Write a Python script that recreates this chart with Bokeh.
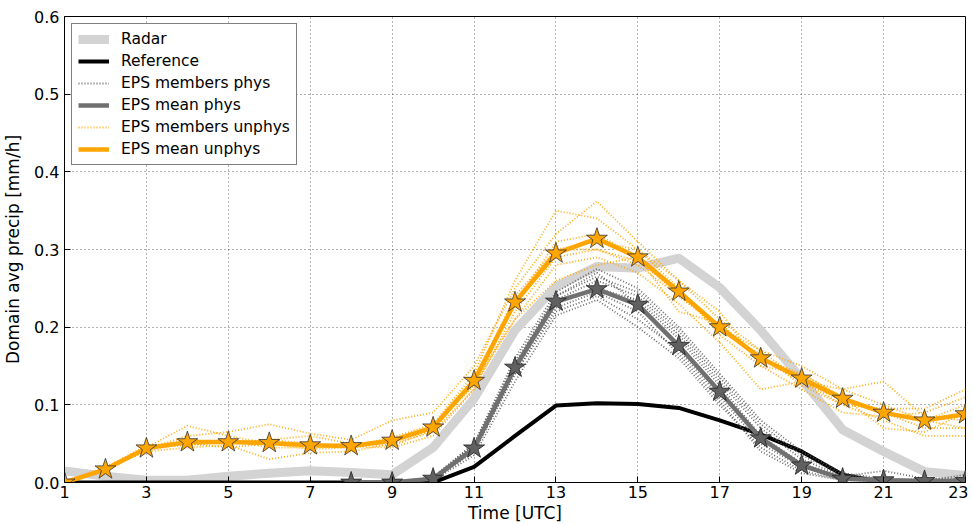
from bokeh.plotting import figure
from bokeh.embed import file_html
from bokeh.resources import INLINE
from bokeh.models import FixedTicker, Legend, LegendItem, NumeralTickFormatter

hours = list(range(1, 24))
hours_phys = list(range(8, 24))

radar = [0.015, 0.008, 0.003, 0.003, 0.008, 0.012, 0.015, 0.013, 0.010, 0.045, 0.108,
         0.196, 0.252, 0.278, 0.276, 0.289, 0.251, 0.196, 0.133, 0.068, 0.040, 0.014, 0.009]
reference = [0.0, 0.0, 0.0, 0.0, 0.0, 0.0, 0.0, 0.0, 0.0, 0.0, 0.02,
             0.06, 0.099, 0.102, 0.101, 0.096, 0.080, 0.062, 0.040, 0.010, 0.0, 0.0, 0.0]

mean_phys = [0.0, 0.0, 0.005, 0.044, 0.148, 0.233, 0.249, 0.229, 0.176, 0.117, 0.057,
             0.022, 0.005, 0.003, 0.002, 0.002]
members_phys = [
    [0, 0, 0.006, 0.05, 0.16, 0.245, 0.275, 0.25, 0.20, 0.14, 0.08, 0.04, 0.012, 0.005, 0.004, 0.004],
    [0, 0, 0.004, 0.04, 0.14, 0.22, 0.24, 0.21, 0.17, 0.11, 0.05, 0.02, 0.004, 0.002, 0.002, 0.002],
    [0, 0, 0.005, 0.045, 0.15, 0.235, 0.26, 0.24, 0.19, 0.13, 0.07, 0.03, 0.008, 0.015, 0.005, 0.005],
    [0, 0, 0.003, 0.035, 0.13, 0.215, 0.235, 0.20, 0.16, 0.10, 0.045, 0.015, 0.003, 0.002, 0.001, 0.001],
    [0, 0, 0.007, 0.05, 0.155, 0.24, 0.27, 0.23, 0.175, 0.115, 0.055, 0.02, 0.005, 0.002, 0.002, 0.01],
    [0, 0, 0.005, 0.042, 0.145, 0.23, 0.25, 0.235, 0.185, 0.125, 0.06, 0.025, 0.006, 0.003, 0.002, 0.002],
    [0, 0, 0.004, 0.04, 0.14, 0.225, 0.245, 0.22, 0.165, 0.105, 0.04, 0.012, 0.003, 0.001, 0.001, 0.001],
    [0, 0, 0.006, 0.048, 0.15, 0.24, 0.265, 0.245, 0.195, 0.135, 0.075, 0.035, 0.01, 0.004, 0.003, 0.003],
]

mean_unphys = [0.0, 0.017, 0.044, 0.052, 0.052, 0.051, 0.048, 0.047, 0.054, 0.071, 0.131,
               0.232, 0.295, 0.314, 0.290, 0.246, 0.200, 0.160, 0.134, 0.108, 0.090, 0.080, 0.088]
members_unphys = [
    [0, 0.020, 0.045, 0.073, 0.060, 0.050, 0.047, 0.046, 0.058, 0.075, 0.14, 0.26, 0.35, 0.34, 0.30, 0.25, 0.19, 0.15, 0.14, 0.11, 0.09, 0.07, 0.07],
    [0, 0.015, 0.043, 0.060, 0.065, 0.075, 0.063, 0.055, 0.080, 0.090, 0.15, 0.25, 0.32, 0.362, 0.31, 0.26, 0.21, 0.17, 0.15, 0.12, 0.10, 0.08, 0.10],
    [0, 0.018, 0.040, 0.045, 0.048, 0.030, 0.038, 0.040, 0.050, 0.065, 0.12, 0.22, 0.29, 0.30, 0.28, 0.24, 0.20, 0.17, 0.13, 0.10, 0.08, 0.06, 0.06],
    [0, 0.017, 0.046, 0.055, 0.050, 0.055, 0.060, 0.050, 0.047, 0.068, 0.13, 0.24, 0.30, 0.31, 0.30, 0.26, 0.22, 0.15, 0.12, 0.09, 0.085, 0.09, 0.11],
    [0, 0.016, 0.042, 0.050, 0.055, 0.045, 0.045, 0.048, 0.052, 0.072, 0.125, 0.21, 0.28, 0.29, 0.27, 0.23, 0.18, 0.12, 0.13, 0.12, 0.13, 0.085, 0.08],
    [0, 0.019, 0.048, 0.050, 0.045, 0.050, 0.043, 0.045, 0.055, 0.070, 0.135, 0.23, 0.31, 0.32, 0.29, 0.24, 0.20, 0.16, 0.14, 0.11, 0.07, 0.065, 0.09],
    [0, 0.017, 0.044, 0.052, 0.050, 0.052, 0.050, 0.046, 0.045, 0.060, 0.12, 0.235, 0.30, 0.30, 0.285, 0.245, 0.195, 0.165, 0.125, 0.10, 0.095, 0.095, 0.12],
    [0, 0.018, 0.045, 0.048, 0.052, 0.055, 0.050, 0.045, 0.052, 0.068, 0.13, 0.21, 0.26, 0.28, 0.29, 0.22, 0.205, 0.16, 0.13, 0.105, 0.09, 0.08, 0.07],
]

x_ticks = list(range(1, 24, 2))
y_ticks = [0.0, 0.1, 0.2, 0.3, 0.4, 0.5, 0.6]

FONT = "DejaVu Sans"

p = figure(width=960, height=516, x_range=(1, 23), y_range=(0, 0.6),
           output_backend="svg", toolbar_location=None,
           min_border_left=56, min_border_right=3, min_border_top=16, min_border_bottom=34)
p.frame_width = 901
p.frame_height = 466
p.outline_line_color = "black"
p.outline_line_width = 1
p.background_fill_color = "white"

for ax in (p.xaxis[0], p.yaxis[0]):
    ax.major_tick_in = 6
    ax.major_tick_out = 0
    ax.minor_tick_in = 0
    ax.minor_tick_out = 0
    ax.axis_line_color = "black"
    ax.major_label_text_font = FONT
    ax.major_label_text_font_size = "16px"
    ax.major_label_text_color = "black"
    ax.axis_label_text_font = FONT
    ax.axis_label_text_font_size = "17px"
    ax.axis_label_text_font_style = "normal"
    ax.axis_label_text_color = "black"

p.xaxis.ticker = FixedTicker(ticks=x_ticks)
p.yaxis.ticker = FixedTicker(ticks=y_ticks)
p.yaxis.formatter = NumeralTickFormatter(format="0.0")
p.xaxis.axis_label = "Time [UTC]"
p.yaxis.axis_label = "Domain avg precip [mm/h]"
p.xaxis.axis_label_standoff = 2
p.yaxis.axis_label_standoff = 8
p.xaxis.major_label_standoff = 3

p.xgrid.ticker = FixedTicker(ticks=x_ticks)
p.ygrid.ticker = FixedTicker(ticks=y_ticks)
for g in (p.xgrid[0], p.ygrid[0]):
    g.grid_line_color = "black"
    g.grid_line_alpha = 0.6
    g.grid_line_dash = "1 3"
    g.grid_line_width = 1

items = []
r = p.line(hours, radar, line_color="#d3d3d3", line_width=9)
items.append(LegendItem(label="Radar", renderers=[r]))
r = p.line(hours, reference, line_color="black", line_width=4)
items.append(LegendItem(label="Reference", renderers=[r]))
first = None
for m in members_phys:
    r = p.line(hours_phys, m, line_color="#555555", line_width=1.8, line_dash="1 2", line_alpha=0.85)
    first = first or r
items.append(LegendItem(label="EPS members phys", renderers=[first]))
r = p.line(hours_phys, mean_phys, line_color="#707070", line_width=4.5)
p.scatter(hours_phys, mean_phys, marker="star", size=22, fill_color="#606060",
          line_color="#222222", line_width=0.8)
items.append(LegendItem(label="EPS mean phys", renderers=[r]))
first = None
for m in members_unphys:
    r = p.line(hours, m, line_color="orange", line_width=1.8, line_dash="1 2", line_alpha=0.9)
    first = first or r
items.append(LegendItem(label="EPS members unphys", renderers=[first]))
r = p.line(hours, mean_unphys, line_color="orange", line_width=4.5)
p.scatter(hours, mean_unphys, marker="star", size=22, fill_color="orange",
          line_color="#333333", line_width=0.8)
items.append(LegendItem(label="EPS mean unphys", renderers=[r]))

legend = Legend(items=items, location="top_left")
legend.label_text_font = FONT
legend.label_text_font_size = "15.5px"
legend.label_text_color = "black"
legend.border_line_color = "black"
legend.border_line_width = 1
legend.background_fill_alpha = 1
legend.glyph_width = 31
legend.glyph_height = 18
legend.label_height = 18
legend.label_standoff = 12
legend.spacing = 4
legend.padding = 6
legend.margin = 7
p.add_layout(legend)

open("out.html", "w").write(file_html(p, INLINE))
